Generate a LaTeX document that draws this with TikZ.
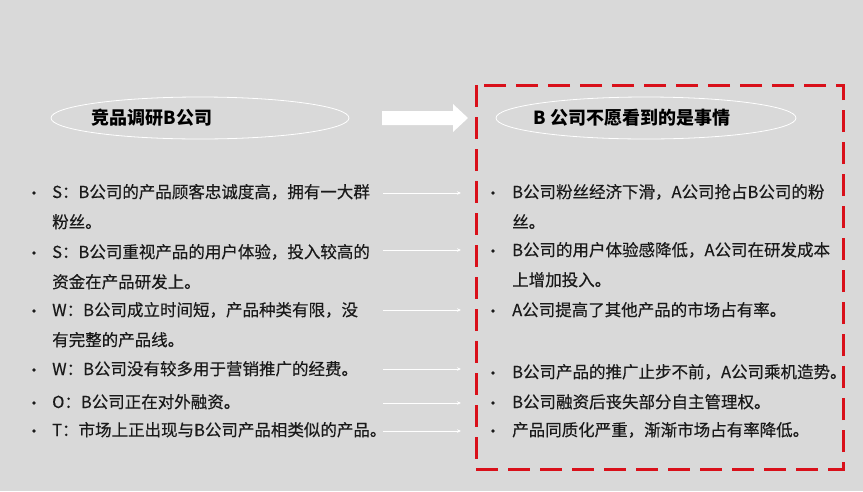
\documentclass[tikz,border=0pt]{standalone}
\usepackage{fontspec}
\setmainfont{Noto Sans CJK SC}
\newfontfamily\itemfont[FakeBold=0.35]{Noto Sans CJK SC}
\usetikzlibrary{arrows.meta}
\definecolor{bg}{HTML}{D9D9D9}
\definecolor{txt}{HTML}{1A1A1A}
\definecolor{redd}{HTML}{D9101A}
\tikzset{
  item/.style={anchor=base west, inner sep=0pt, text=txt, font=\itemfont\fontsize{16.5}{20}\selectfont},
  bul/.style={circle, fill=txt, minimum size=3.6pt, inner sep=0pt},
  head/.style={anchor=center, inner sep=0pt, text=black, font=\fontsize{18}{20}\selectfont\bfseries},
  link/.style={draw=white, line width=0.7pt, -{Stealth[length=4pt,width=3.5pt]}},
}
\begin{document}
\begin{tikzpicture}[x=1pt,y=-1pt]
\fill[bg] (0,0) rectangle (863,491);
\useasboundingbox (0,0) rectangle (863,491);
% ovals
\draw[white, line width=0.8pt] (200,118) ellipse [x radius=149, y radius=21];
\draw[white, line width=0.8pt] (646,118) ellipse [x radius=150, y radius=21];
\node[head] (hL) at (152,118) {竞品调研B公司};
\node[head] (hR) at (632,118) {B 公司不愿看到的是事情};
% block arrow
\fill[white] (382,111) -- (453,111) -- (453,104) -- (468,118) -- (453,132) -- (453,125) -- (382,125) -- cycle;
% red dashed frame
\draw[redd, line width=3pt, dash pattern=on 22pt off 10pt] (476,85) rectangle (843,469);
% left items
\foreach \n/\y in {1/193,2/253,3/311,4/370,5/403,6/431}{\node[bul] (bl\n) at (34,\y) {};}
\node[item] (l1a) at (52,198) {S：B公司的产品顾客忠诚度高，拥有一大群};
\node[item] (l1b) at (52,228) {粉丝。};
\node[item] (l2a) at (52,258) {S：B公司重视产品的用户体验，投入较高的};
\node[item] (l2b) at (52,288) {资金在产品研发上。};
\node[item] (l3a) at (52,316) {W：B公司成立时间短，产品种类有限，没};
\node[item] (l3b) at (52,346) {有完整的产品线。};
\node[item] (l4) at (52,375) {W：B公司没有较多用于营销推广的经费。};
\node[item] (l5) at (52,408) {O：B公司正在对外融资。};
\node[item] (l6) at (52,436) {T：市场上正出现与B公司产品相类似的产品。};
% right items
\foreach \n/\y in {1/193,2/251,3/311,4/373,5/403,6/431}{\node[bul] (br\n) at (493,\y) {};}
\node[item] (r1a) at (512,198) {B公司粉丝经济下滑，A公司抢占B公司的粉};
\node[item] (r1b) at (512,228) {丝。};
\node[item] (r2a) at (512,256) {B公司的用户体验感降低，A公司在研发成本};
\node[item] (r2b) at (512,286) {上增加投入。};
\node[item] (r3) at (512,316) {A公司提高了其他产品的市场占有率。};
\node[item] (r4) at (512,378) {B公司产品的推广止步不前，A公司乘机造势。};
\node[item] (r5) at (512,408) {B公司融资后丧失部分自主管理权。};
\node[item] (r6) at (512,436) {产品同质化严重，渐渐市场占有率降低。};
% connectors
\foreach \n/\y in {1/193,2/250,3/310,4/369,5/403,6/431}{
  \coordinate (s\n) at (383,\y);
  \coordinate (e\n) at (461,\y);
  \draw[link] (s\n) -- (e\n);
}
\end{tikzpicture}
\end{document}
